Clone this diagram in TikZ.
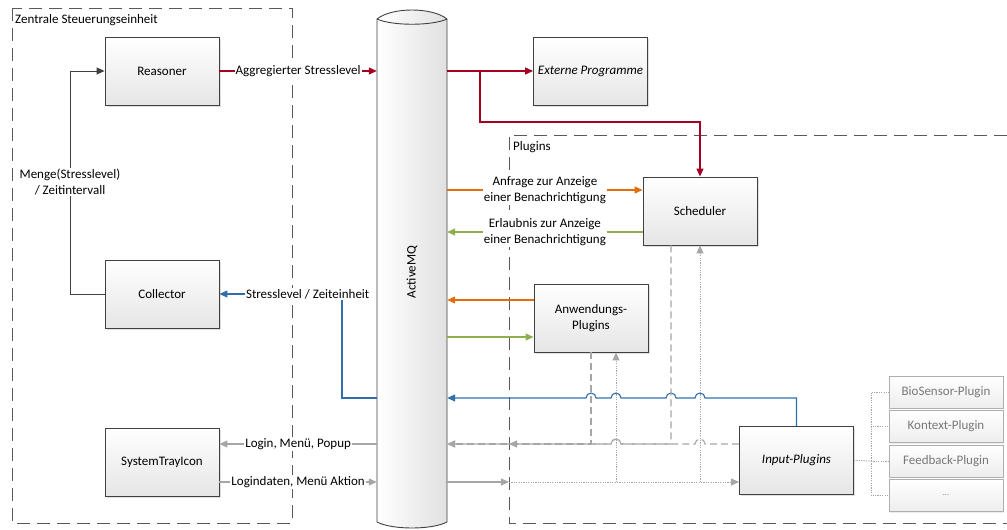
\documentclass[tikz,border=0pt]{standalone}
\usepackage{fontspec}
\setmainfont{Carlito}
\usetikzlibrary{arrows.meta,shadows,calc}
\definecolor{cred}{RGB}{165,0,33}
\definecolor{corange}{RGB}{228,108,10}
\definecolor{cgreen}{RGB}{143,174,80}
\definecolor{cblue}{RGB}{50,110,170}
\definecolor{cgray}{RGB}{166,166,166}
\definecolor{boxline}{RGB}{64,64,64}
\definecolor{contline}{RGB}{89,89,89}
\definecolor{lightline}{RGB}{175,175,175}
\definecolor{lighttext}{RGB}{120,120,120}
\begin{document}
\begin{tikzpicture}[x=1pt,y=-1pt,
  font=\fontsize{13}{16}\selectfont,
  box/.style={draw=boxline, line width=0.9pt, minimum width=114pt, minimum height=68pt,
    top color=white, bottom color=black!10, align=center,
    drop shadow={shadow xshift=1.5pt, shadow yshift=-1.5pt, opacity=0.25}},
  sbox/.style={draw=lightline, line width=0.8pt, minimum width=114pt, minimum height=32pt,
    top color=white, bottom color=black!7, text=lighttext, align=center,
    drop shadow={shadow xshift=1pt, shadow yshift=-1pt, opacity=0.15}},
  cont/.style={draw=contline, line width=1pt, dash pattern=on 13pt off 7pt},
  arr/.style={-{Triangle[length=8pt,width=7pt]}},
  conn/.style={line width=1.1pt},
  gdash/.style={cgray, line width=1.1pt, dash pattern=on 7pt off 4pt},
  gdot/.style={cgray, line width=1pt, dash pattern=on 1.2pt off 1.2pt},
  lbl/.style={fill=white, inner sep=1pt, align=center, text=black}]
\useasboundingbox (0,0) rectangle (1007,530);

% containers
\draw[cont] (12,8) rectangle (292,523);
\node[anchor=west, inner sep=0] (zlabel) at (15,20) {Zentrale Steuerungseinheit};
\draw[cont] (1007,135) -- (509,135) -- (509,523) -- (1007,523);
\node[anchor=west, inner sep=0] (plabel) at (513,147) {Plugins};

% ActiveMQ cylinder
\node[minimum width=70pt, minimum height=503pt, inner sep=0] (mq) at (412,270) {};
\path[draw=boxline, line width=0.9pt, left color=white, right color=black!12]
  (377,19) .. controls (392,7) and (432,7) .. (447,19) -- (447,522)
  .. controls (432,530) and (392,530) .. (377,522) -- cycle;
\draw[boxline, line width=0.9pt] (377,19) .. controls (392,26) and (432,26) .. (447,19);
\node[rotate=90] (mqtext) at (412,272) {ActiveMQ};

% main boxes
\node[box] (reasoner) at (162,71) {Reasoner};
\node[box] (collector) at (162,294) {Collector};
\node[box] (tray) at (162,462) {SystemTrayIcon};
\node[box] (extern) at (590.5,71) {\itshape Externe Programme};
\node[box] (sched) at (700,211) {Scheduler};
\node[box] (anw) at (591,318) {Anwendungs-\\Plugins};
\node[box] (input) at (796.5,460.5) {\itshape Input-Plugins};

% sub plugins
\node[sbox] (bio) at (946,392) {BioSensor-Plugin};
\node[sbox] (kontext) at (946,426.5) {Kontext-Plugin};
\node[sbox] (feedback) at (946,461) {Feedback-Plugin};
\node[sbox, font=\fontsize{8}{9}\selectfont] (more) at (946,495.5) {...};

% collector -> reasoner
\draw[boxline, line width=1pt, arr] (collector.west) -- (70,294) -- (70,71) -- (reasoner.west);
\node[lbl] (mengelbl) at (70,182) {Menge(Stresslevel)\\/ Zeitintervall};

% red
\draw[cred, conn, arr] (reasoner.east) -- node[lbl]{Aggregierter Stresslevel} (reasoner.east -| mq.west);
\draw[cred, conn, arr] (mq.east |- extern.west) -- (extern.west);
\coordinate (split) at (480,71);
\draw[cred, conn, arr] (split) -- (480,122) -| (sched.north);

% orange / green
\draw[corange, conn, arr] (mq.east |- 0,190) -- node[lbl]{Anfrage zur Anzeige\\einer Benachrichtigung} (sched.west |- 0,190);
\draw[cgreen, conn, arr] (sched.west |- 0,232) -- node[lbl]{Erlaubnis zur Anzeige\\einer Benachrichtigung} (mq.east |- 0,232);
\draw[corange, conn, arr] (anw.west |- 0,300) -- (mq.east |- 0,300);
\draw[cgreen, conn, arr] (mq.east |- 0,337) -- (anw.west |- 0,337);

% blue
\draw[cblue, conn, arr] (input.north) |- (705,398)
  arc[start angle=0, end angle=180, radius=5pt] -- (676,398)
  arc[start angle=0, end angle=180, radius=5pt] -- (621,398)
  arc[start angle=0, end angle=180, radius=5pt] -- (596,398)
  arc[start angle=0, end angle=180, radius=5pt] -- (mq.east |- 0,398);
\draw[cblue, conn, arr] (mq.west |- 0,398) -- (342,398) -- (342,294) --
  node[lbl, pos=0.28]{Stresslevel / Zeiteinheit} (collector.east);

% gray solid
\draw[cgray, conn, arr] (mq.west |- 0,444) -- node[lbl]{Login, Menü, Popup} (tray.east |- 0,444);
\draw[cgray, conn, arr] (tray.east |- 0,482) -- node[lbl]{Logindaten, Menü Aktion} (mq.west |- 0,482);
\coordinate (pin) at (509,482);
\draw[cgray, conn, arr] (mq.east |- 0,482) -- (pin);

% gray dotted
\draw[gdot, arr] (pin) -- (input.west |- 0,482);
\draw[gdot, arr] (616,482) -- (anw.south -| 616,0);
\draw[gdot, arr] (700,482) -- (sched.south -| 700,0);

% gray dashed
\draw[gdash, arr] (anw.south) -- (591,444) -- (mq.east |- 0,444);
\draw[gdash, arr] (sched.south -| 671,0) -- (671,444) -- (621,444)
  arc[start angle=0, end angle=180, radius=5pt] -- (mq.east |- 0,444);
\draw[gdash, arr] (input.west |- 0,444) -- (705,444)
  arc[start angle=0, end angle=180, radius=5pt] -- (621,444)
  arc[start angle=0, end angle=180, radius=5pt] -- (509,444);

% input -> sub plugins
\coordinate (fork) at (871,461);
\draw[gdot] (input.east) -- (fork);
\draw[gdot] (fork) |- (bio.west);
\draw[gdot] (fork) |- (kontext.west);
\draw[gdot] (fork) -- (feedback.west);
\draw[gdot] (fork) |- (more.west);
\end{tikzpicture}
\end{document}
